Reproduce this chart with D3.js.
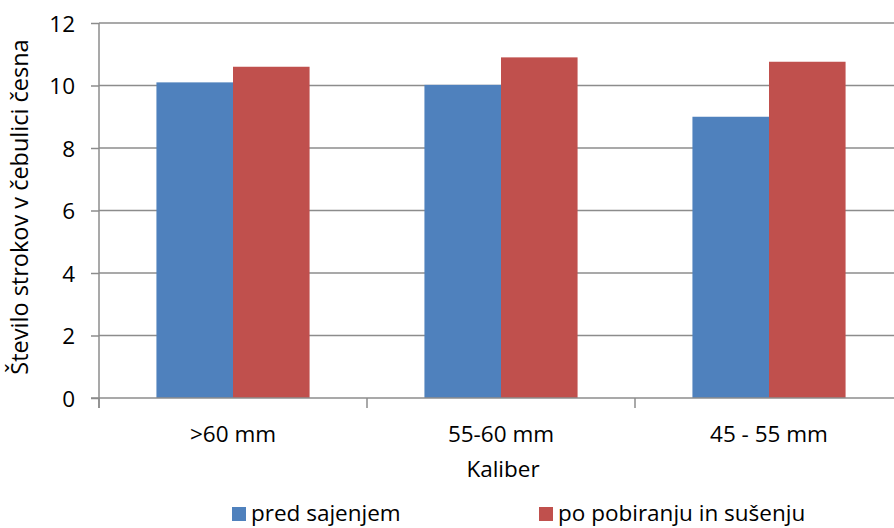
<!DOCTYPE html>
<html><head><meta charset="utf-8">
<script src="https://cdn.jsdelivr.net/npm/d3@7"></script>
<style>body{margin:0;background:#fff}svg{display:block}text{font-family:"Open Sans",sans-serif;fill:#000}</style>
</head><body>
<svg id="c" width="894" height="528"></svg>
<script>
const categories = [">60 mm", "55-60 mm", "45 - 55 mm"];
const seriesNames = ["pred sajenjem", "po pobiranju in sušenju"];
const predSajenjem = [10.1, 10.02, 9.0];
const poPobiranju = [10.6, 10.9, 10.76];
const yTicks = [0, 2, 4, 6, 8, 10, 12];
const colors = ["#4F81BD", "#C0504D"];

(function () {
const svg = d3.select("#c");
const mLeft = 99, mRight = 903, mTop = 23, mBottom = 398;
const fs = "22.5px";
const x = d3.scaleBand().domain(categories).range([mLeft, mRight]).paddingInner(0).paddingOuter(0);
const x1 = d3.scaleBand().domain(seriesNames).range([0, x.bandwidth()]).paddingInner(0).paddingOuter(0.75);
const y = d3.scaleLinear().domain([0, 12]).range([mBottom, mTop]);

// gridlines
svg.append("g").selectAll("line").data(yTicks.filter(d => d > 0)).join("line")
  .attr("x1", mLeft).attr("x2", 894).attr("y1", d => y(d)).attr("y2", d => y(d))
  .attr("stroke", "#8c8c8c").attr("stroke-width", 1.5);

// bars
const data = categories.map((c, i) => ({c, vals: [predSajenjem[i], poPobiranju[i]]}));
const g = svg.append("g").selectAll("g").data(data).join("g")
  .attr("transform", d => `translate(${x(d.c)},0)`);
g.selectAll("rect").data(d => d.vals.map((v, j) => ({v, s: seriesNames[j], j}))).join("rect")
  .attr("x", d => x1(d.s)).attr("width", x1.bandwidth())
  .attr("y", d => y(d.v)).attr("height", d => y(0) - y(d.v))
  .attr("fill", d => colors[d.j]);

// y axis
const ya = d3.axisLeft(y).tickValues(yTicks).tickSize(8).tickPadding(16);
const yg = svg.append("g").attr("transform", `translate(${mLeft},0)`).call(ya);
yg.select(".domain").attr("stroke", "#8c8c8c").attr("stroke-width", 1.5).attr("d", `M0,${mTop}V${mBottom + 10}`);
yg.selectAll(".tick line").attr("stroke", "#8c8c8c").attr("stroke-width", 1.5);
yg.selectAll(".tick text").style("font-size", fs).style("font-family", "'Open Sans',sans-serif").attr("dy", "0.36em");

// x axis
svg.append("line").attr("x1", mLeft - 8).attr("x2", 894).attr("y1", mBottom).attr("y2", mBottom)
  .attr("stroke", "#8c8c8c").attr("stroke-width", 1.5);
svg.append("g").selectAll("line").data(categories).join("line")
  .attr("x1", d => x(d)).attr("x2", d => x(d)).attr("y1", mBottom).attr("y2", mBottom + 10)
  .attr("stroke", "#8c8c8c").attr("stroke-width", 1.5);
svg.append("g").selectAll("text").data(categories).join("text")
  .attr("x", d => x(d) + x.bandwidth() / 2).attr("y", 442)
  .attr("text-anchor", "middle").style("font-size", fs).text(d => d);

svg.append("text").attr("x", 503).attr("y", 477).attr("text-anchor", "middle")
  .style("font-size", fs).text("Kaliber");

svg.append("text").attr("transform", "translate(28,207) rotate(-90)")
  .attr("text-anchor", "middle").style("font-size", "23.5px").text("Število strokov v čebulici česna");

// legend
const legX = [232, 539];
const lg = svg.append("g").selectAll("g").data(seriesNames).join("g")
  .attr("transform", (d, i) => `translate(${legX[i]},507)`);
lg.append("rect").attr("width", 14).attr("height", 14).attr("fill", (d, i) => colors[i]);
lg.append("text").attr("x", 19).attr("y", 14).style("font-size", "22.5px").text(d => d);
})();
</script>
</body></html>
